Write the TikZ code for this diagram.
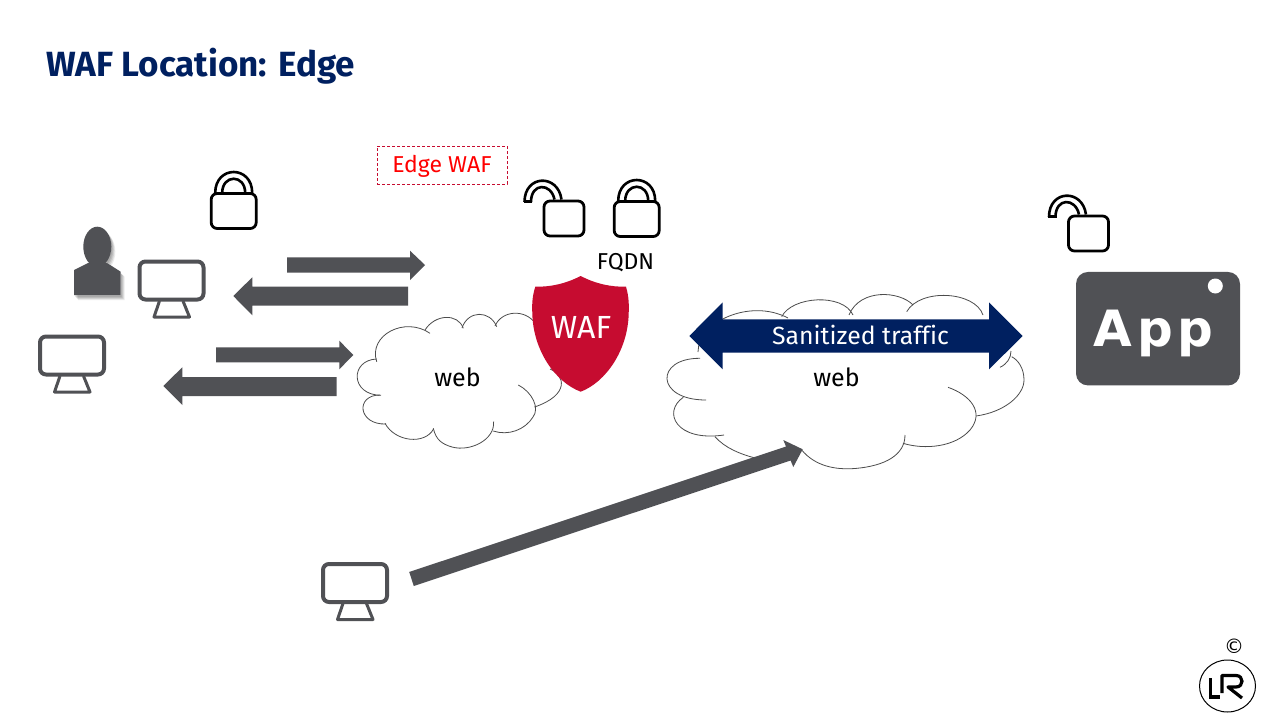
\documentclass[tikz,border=0pt]{standalone}
\usepackage{fontspec}
\usetikzlibrary{shapes.geometric}
\setmainfont[Ligatures=NoCommon]{Fira Sans}
\newfontfamily\titlefont{Fira Sans}
\newfontfamily\appfont[LetterSpace=10]{DejaVu Sans}
\newfontfamily\symfont{DejaVu Sans}
\definecolor{navy}{HTML}{002060}
\definecolor{slate}{HTML}{505155}
\definecolor{shieldred}{HTML}{C60C30}
\tikzset{
  x=1pt,y=-1pt,
  blockarrow/.style={fill=slate,draw=none},
  lockline/.style={draw=black,line width=2.8pt,line join=round},
  shackle/.style={draw=black,line width=2.6pt},
  screenline/.style={draw=slate,line width=4pt,rounded corners=6pt},
  standline/.style={draw=slate,line width=3pt,line join=round},
  cloudline/.style={draw=black!70,line width=0.8pt},
  label/.style={inner sep=0pt,text=black,font=\fontsize{25}{27}\selectfont},
  lockclosed/.pic={
    \path[shackle] (-18.5,-18) .. controls (-18.5,-46) and (18.5,-46) .. (18.5,-18);
    \path[shackle] (-11.5,-18) .. controls (-11.5,-37) and (11.5,-37) .. (11.5,-18);
    \path[lockline,fill=white,rounded corners=6pt] (-22.5,-17.5) rectangle (22.5,17.5);
  },
  lockopen/.pic={
    \path[shackle] (-19.5,-16.5) .. controls (-19.5,-44) and (14,-45) .. (17.5,-19);
    \path[shackle] (-13,-16.5) .. controls (-13,-36) and (7,-36) .. (10.5,-19);
    \path[shackle] (-20.5,-17) -- (-12,-17);
    \path[lockline,fill=white,rounded corners=6pt] (0,-17.5) rectangle (40,17.5);
  },
  monitor/.pic={
    \path[screenline,fill=white] (0,0) rectangle (64,38);
    \path[standline] (20,39.5) -- (14.5,55.5) -- (50,55.5) -- (43.5,39.5);
  },
}
\begin{document}
\begin{tikzpicture}
\useasboundingbox[fill=white] (0,0) rectangle (1280,720);

% title
\node[anchor=base west,inner sep=0pt,text=navy,font=\titlefont\bfseries\fontsize{35}{40}\selectfont] (title) at (46,76) {WAF Location: Edge};

% person
\foreach \o/\a in {1/0.10,2/0.10,3/0.10,4/0.08}{
  \fill[black,opacity=\a] ({97.3+\o},{246.7+\o+1}) ellipse [x radius=14,y radius=20];
  \fill[black,opacity=\a] ({74+\o},{270+\o+1}) -- ({88+\o},{263+\o+1}) -- ({107+\o},{263+\o+1}) -- ({120.7+\o},{271.7+\o+1}) -- ({120.7+\o},{295+\o+1}) -- ({74+\o},{295+\o+1}) -- cycle;
}
\fill[white] (74,270) -- (88,263) -- (107,263) -- (120.7,271.7) -- (120.7,295) -- (74,295) -- cycle;
\fill[slate] (97.3,246.7) ellipse [x radius=14,y radius=20];
\fill[slate] (74,270) -- (88,263) -- (107,263) -- (120.7,271.7) -- (120.7,295) -- (74,295) -- cycle;

% monitors
\pic at (139.5,261.5) {monitor};
\pic at (40,336.5) {monitor};
\pic at (323,564) {monitor};

% locks
\pic at (233.7,211) {lockclosed};
\pic at (636.7,219) {lockclosed};
\pic at (544,218.5) {lockopen};
\pic at (1068.5,233.5) {lockopen};

% block arrows
\path[blockarrow] (287,257.3) -- (410,257.3) -- (410,250.7) -- (425,265) -- (410,280) -- (410,272.7) -- (287,272.7) -- cycle;
\path[blockarrow] (408,286.7) -- (252.3,286.7) -- (252.3,277.3) -- (233.3,296) -- (252.3,315.3) -- (252.3,305.7) -- (408,305.7) -- cycle;
\path[blockarrow] (216,347.3) -- (339.3,347.3) -- (339.3,340.7) -- (353.3,355) -- (339.3,369.3) -- (339.3,362.3) -- (216,362.3) -- cycle;
\path[blockarrow] (336.7,377) -- (182.3,377) -- (182.3,367.3) -- (163.3,386) -- (182.3,405) -- (182.3,396) -- (336.7,396) -- cycle;

% edge WAF label
\node[draw=shieldred,densely dashed,line width=0.8pt,minimum width=130pt,minimum height=38pt,inner sep=0pt] (edge) at (442,165) {};
\node[inner sep=0pt,text=red,font=\fontsize{23}{26}\selectfont] (edgetext) at (442,166) {Edge WAF};

% left cloud
\fill[white] (376.7,361.7) -- (406.7,326.7) -- (445,319) -- (481.7,315) -- (515,315) -- (533.3,321.7) -- (561.7,381.7) -- (535,406.7) -- (506.7,431.7) -- (463.3,448.3) -- (413.3,440) -- (385,423.3) -- (363.3,405) -- (358.3,376.7) -- cycle;
\begin{scope}[cloudline]
\draw (376.7,361.7) .. controls (368,335) and (405,316) .. (430,333.3);
\draw (425,330) .. controls (435,314) and (458,313) .. (463.3,328.3);
\draw (462,328) .. controls (468,310) and (490,310) .. (496.7,326.7);
\draw (495,326) .. controls (502,310) and (525,309) .. (535,323);
\draw (550,369) .. controls (565,375) and (570,395) .. (534.5,407);
\draw (518.3,385) .. controls (532,392) and (540,408) .. (533,417) .. controls (525,430) and (508,436) .. (493.3,431);
\draw (493.6,421.7) .. controls (495,440) and (470,452) .. (452,447) .. controls (442,444) and (436,440) .. (433.3,428.3);
\draw (433.5,429) .. controls (425,445) and (395,442) .. (385,423.3);
\draw (386,424) .. controls (358,425) and (355,395) .. (380,395);
\draw (381,395.3) .. controls (350,395) and (350,360) .. (376.7,359);
\end{scope}
\node[label] (web1) at (457.5,377.5) {web};

% shield
\fill[shieldred] (580.7,276) .. controls (565,284) and (550,287) .. (535.3,286.7) .. controls (532,297) and (532,305) .. (532.3,313.3) .. controls (533,350) and (555,382) .. (580.7,391.7) .. controls (606,382) and (628,350) .. (628.7,313.3) .. controls (629,305) and (629,297) .. (626,286.7) .. controls (611,287) and (596,284) .. (580.7,276) -- cycle;
\node[inner sep=0pt,text=white,font=\fontsize{32}{34}\selectfont] (waf) at (581,327.5) {WAF};
\node[label,font=\fontsize{23}{25}\selectfont] (fqdn) at (625.5,262.5) {FQDN};

% right cloud
\fill[white] (700,350) -- (750,311.7) -- (816.7,300.7) -- (883,295.7) -- (943,295.7) -- (983,315) -- (1024,380) -- (976,416) -- (933,447.3) -- (850,469.3) -- (753,457) -- (674,413) -- (666,376.7) -- cycle;
\begin{scope}[cloudline]
\draw (700,358.3) .. controls (655,358) and (655,400) .. (706,400);
\draw (683.3,397.3) .. controls (662,412) and (676,442) .. (724,435);
\draw (715,436.7) .. controls (725,448) and (740,454) .. (755,458);
\draw (801.7,450) .. controls (815,466) and (835,470) .. (855,468.5) .. controls (885,466) and (905,455) .. (905,435);
\draw (903,443.3) .. controls (925,450) and (955,447) .. (970,430) .. controls (985,412) and (970,395) .. (948,387.3);
\draw (976,416) .. controls (1005,412) and (1024,395) .. (1024,380) .. controls (1024,368) and (1018,360) .. (1011.7,356.7);
\draw (1011,351) .. controls (1011,358) and (1007,364) .. (1000,367.3);
\draw (698,352) .. controls (698,322) and (750,298) .. (788,318);
\draw (781.7,316.7) .. controls (792,296) and (843,293) .. (853,315);
\draw (849,315) .. controls (860,288) and (900,291) .. (913,305);
\draw (906.7,311.7) .. controls (920,288) and (975,291) .. (983,315);
\end{scope}
\path[fill=navy] (689.3,336) -- (722.7,302.3) -- (722.7,319.3) -- (989,319.3) -- (989,302.3) -- (1022.7,336) -- (989,369.3) -- (989,352.7) -- (722.7,352.7) -- (722.7,369.3) -- cycle;
\node[inner sep=0pt,text=white,font=\fontsize{24.8}{28}\selectfont] (san) at (860.5,335) {Sanitized traffic};
\node[label] (web2) at (836.5,377.5) {web};

% diagonal arrow
\path[blockarrow] (409.2,572) -- (786,446.5) -- (783.3,440) -- (802.7,449.3) -- (793.3,467) -- (790.6,460.5) -- (413.8,586) -- cycle;

% app
\node[fill=slate,rounded corners=12pt,minimum width=164pt,minimum height=113.5pt,inner sep=0pt] (appbox) at (1158,328.7) {};
\fill[white] (1215.3,286) circle [radius=7.5];
\node[anchor=base,inner sep=0pt,text=white,font=\appfont\bfseries\fontsize{50}{52}\selectfont] (app) at (1153.5,346.7) {App};

% logo
\node[draw=black,ellipse,line width=1pt,minimum width=56pt,minimum height=52pt,inner sep=0pt] (logo) at (1227.5,686) {};
\node[inner sep=0pt,text=black,font=\symfont\fontsize{20}{22}\selectfont] (copy) at (1234,646) {©};
\draw[line width=3.2pt,black] (1210.5,678) -- (1210.5,697) -- (1220,697);
\draw[line width=3.2pt,black,line join=round] (1222,693) -- (1222,675.5) -- (1236,675.5) .. controls (1244,675.5) and (1244,687) .. (1236,687) -- (1228,687) -- (1242,698);
\end{tikzpicture}
\end{document}
